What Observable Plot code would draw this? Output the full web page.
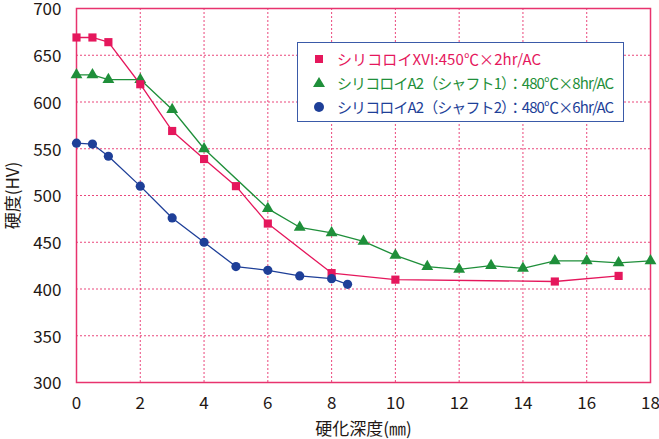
<!DOCTYPE html>
<html><head><meta charset="utf-8">
<script src="https://cdn.jsdelivr.net/npm/d3@7"></script>
<script src="https://cdn.jsdelivr.net/npm/@observablehq/plot@0.6"></script>
<style>
body{margin:0;background:#fff;}
#wrap{position:relative;width:659px;height:439px;font-family:"Noto Sans CJK JP","Noto Sans",sans-serif;}
#legend{position:absolute;left:297px;top:42px;width:327px;height:80px;border:1.5px solid #3a5aa8;background:#fff;box-sizing:border-box;font-size:15px;}
.row{position:absolute;left:0;height:20px;line-height:20px;white-space:nowrap;}
.mk{position:absolute;left:17px;top:6px;width:8px;height:8px;}
.tx{position:absolute;left:39px;top:0;}
</style></head>
<body>
<div id="wrap"><div id="chart"></div><div id="legend"></div></div>
<script>
const xviDepth = [0, 0.5, 1, 2, 3, 4, 5, 6, 8, 10, 15, 17];
const xviHV    = [669, 669, 664, 619, 569, 539, 510, 470, 417, 410, 408, 414];

const s1Depth = [0, 0.5, 1, 2, 3, 4, 6, 7, 8, 9, 10, 11, 12, 13, 14, 15, 16, 17, 18];
const s1HV    = [629, 629, 624, 624, 592, 550, 486, 466, 460, 451, 436, 424, 421, 425, 422, 430, 430, 428, 430];

const s2Depth = [0, 0.5, 1, 2, 3, 4, 5, 6, 7, 8, 8.5];
const s2HV    = [556, 555, 542, 510, 476, 450, 424, 420, 414, 411, 405];

const seriesNames = [
  "シリコロイXVI:450℃×2hr/AC",
  "シリコロイA2（シャフト1）：480℃×8hr/AC",
  "シリコロイA2（シャフト2）：480℃×6hr/AC"
];
const seriesColors = ["#e5175c", "#1f8f3a", "#1e3f98"];
const seriesSymbols = ["square", "triangle", "circle"];

const xTicks = [0, 2, 4, 6, 8, 10, 12, 14, 16, 18];
const yTicks = [300, 350, 400, 450, 500, 550, 600, 650, 700];

const xLabel = "硬化深度(㎜)";
const yLabel = "硬度(HV)";

const toRows = (xs, ys) => xs.map((d, i) => ({depth: d, hv: ys[i]}));
const sets = [toRows(xviDepth, xviHV), toRows(s1Depth, s1HV), toRows(s2Depth, s2HV)];
const drawOrder = [1, 0, 2];

const pink = "#e8336e";
const marks = [
  Plot.gridX(xTicks, {stroke: pink, strokeOpacity: 0.9, strokeDasharray: "2,2", strokeWidth: 1}),
  Plot.gridY(yTicks, {stroke: pink, strokeOpacity: 0.9, strokeDasharray: "2,2", strokeWidth: 1}),
  Plot.frame({stroke: pink, strokeWidth: 1.5}),
  Plot.axisX({ticks: xTicks, tickSize: 0, tickPadding: 14, label: xLabel, labelAnchor: "center", labelOffset: 52, labelArrow: false, fontSize: 17, fill: "#231815"}),
  Plot.axisY({ticks: yTicks, tickSize: 0, tickPadding: 15, label: yLabel, labelAnchor: "center", labelOffset: 70, labelArrow: false, fontSize: 17, fill: "#231815", dy: 1.5})
];
for (const i of drawOrder) {
  marks.push(Plot.line(sets[i], {x: "depth", y: "hv", stroke: seriesColors[i], strokeWidth: 1.3}));
}
for (const i of drawOrder) {
  marks.push(Plot.dot(sets[i], {x: "depth", y: "hv", fill: seriesColors[i], stroke: "none", symbol: seriesSymbols[i], r: i === 1 ? 4.4 : 4.6}));
}

const chart = Plot.plot({
  width: 659, height: 439,
  marginLeft: 76, marginRight: 9, marginTop: 8, marginBottom: 57,
  style: {fontFamily: '"Noto Sans CJK JP","Noto Sans",sans-serif', fontSize: "17px", color: "#231815", background: "#fff"},
  x: {domain: [0, 18]},
  y: {domain: [300, 700]},
  marks
});
document.getElementById("chart").appendChild(chart);

const legend = document.getElementById("legend");
const rowTops = [6, 30, 54];
const rowSpacing = ["0.1px", "-0.9px", "-0.9px"];
seriesNames.forEach((name, i) => {
  const row = document.createElement("div");
  row.className = "row";
  row.style.top = rowTops[i] + "px";
  const mk = document.createElement("div");
  mk.className = "mk";
  if (seriesSymbols[i] === "square") {
    mk.style.background = seriesColors[i];
  } else if (seriesSymbols[i] === "circle") {
    mk.style.background = seriesColors[i];
    mk.style.borderRadius = "50%";
    mk.style.width = "10px"; mk.style.height = "10px";
    mk.style.left = "16px"; mk.style.top = "5px";
  } else {
    mk.style.width = "0"; mk.style.height = "0";
    mk.style.left = "15px"; mk.style.top = "4px";
    mk.style.borderLeft = "6px solid transparent";
    mk.style.borderRight = "6px solid transparent";
    mk.style.borderBottom = "10px solid " + seriesColors[i];
  }
  const tx = document.createElement("span");
  tx.className = "tx";
  tx.style.color = seriesColors[i];
  tx.style.letterSpacing = rowSpacing[i];
  tx.textContent = name;
  row.appendChild(mk); row.appendChild(tx);
  legend.appendChild(row);
});
</script>
</body></html>
